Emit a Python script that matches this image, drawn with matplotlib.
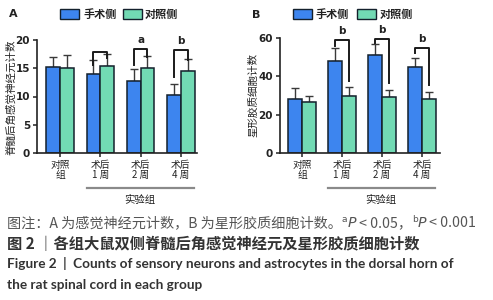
import matplotlib
matplotlib.use("Agg")
import matplotlib.pyplot as plt
from matplotlib.patches import Rectangle
import numpy as np

plt.rcParams['font.family'] = ['Noto Sans CJK SC', 'DejaVu Sans']

groups = ["对照\n组", "术后\n1 周", "术后\n2 周", "术后\n4 周"]
series = ["手术侧", "对照侧"]

a_op = [15.2, 14.0, 12.8, 10.2]
a_op_err = [1.8, 2.4, 2.0, 2.0]
a_ct = [15.1, 15.4, 15.1, 14.5]
a_ct_err = [2.2, 2.2, 2.1, 2.1]

b_op = [28.0, 48.1, 51.2, 45.1]
b_op_err = [5.7, 6.6, 5.6, 4.7]
b_ct = [26.7, 29.9, 29.4, 28.0]
b_ct_err = [3.0, 4.7, 3.5, 3.6]

# significance brackets: (group index, top, left leg bottom, right leg bottom, label)
a_sig = [(1, 17.9, 15.6, 16.8, ""), (2, 18.4, 15.6, 17.0, "a"), (3, 18.2, 13.4, 16.5, "b")]
b_sig = [(1, 58.7, 55.6, 37.6, "b"), (2, 59.6, 57.3, 36.4, "b"), (3, 54.7, 52.0, 35.5, "b")]

BLUE = "#3d85ef"
GREEN = "#72dab4"
EDGE = "#14202c"
W, H = 493, 300

fig = plt.figure(figsize=(W / 100, H / 100), dpi=100)

def px(x, y):
    return x / W, 1 - y / H

def panel(left, right, top, bottom, xlim, ylim, yticks, op, ope, ct, cte, sig, ylabel, ylx, yly):
    ax = fig.add_axes([left / W, 1 - bottom / H, (right - left) / W, (bottom - top) / H])
    x = np.arange(len(groups))
    bw = 0.34
    ax.bar(x - bw / 2, op, bw, color=BLUE, edgecolor=EDGE, linewidth=1.1, zorder=2)
    ax.bar(x + bw / 2, ct, bw, color=GREEN, edgecolor=EDGE, linewidth=1.1, zorder=2)
    ax.errorbar(x - bw / 2, op, yerr=[np.zeros(len(op)), ope], fmt="none", ecolor="#3a3a3a",
                elinewidth=1.0, capsize=3, capthick=1.0, zorder=1)
    ax.errorbar(x + bw / 2, ct, yerr=[np.zeros(len(ct)), cte], fmt="none", ecolor="#3a3a3a",
                elinewidth=1.0, capsize=3, capthick=1.0, zorder=1)
    span = ylim[1] - ylim[0]
    for g, top_, lb, rb, lab in sig:
        ax.plot([g - bw / 2, g - bw / 2, g + bw / 2, g + bw / 2], [lb, top_, top_, rb],
                color="#1a1a1a", lw=1.4, clip_on=False, zorder=3)
        if lab:
            ax.text(g, top_ + span * 0.035, lab, ha="center", va="bottom", fontsize=7.5,
                    fontweight="bold", color="#222222", family="DejaVu Sans")
    ax.set_xlim(*xlim)
    ax.set_ylim(*ylim)
    ax.set_yticks(yticks)
    ax.set_yticklabels([str(t) for t in yticks], fontsize=7.5, fontweight="bold", color="#222222",
                       family="DejaVu Sans")
    ax.set_xticks(x)
    ax.set_xticklabels(groups, fontsize=7, linespacing=1.0, color="#222222")
    for sp in ["top", "right"]:
        ax.spines[sp].set_visible(False)
    for sp in ["left", "bottom"]:
        ax.spines[sp].set_linewidth(1.2)
        ax.spines[sp].set_color("#222222")
    ax.tick_params(axis="both", direction="out", length=3, width=1.1, color="#222222", pad=2)
    ax.patch.set_alpha(0)
    fig.text(*px(ylx, yly), ylabel, rotation=90, ha="center", va="center", fontsize=7.6,
             color="#222222", linespacing=1.0)
    return ax

panel(37, 197, 40, 153, (-0.57, 3.4), (0, 20), [0, 5, 10, 15, 20],
      a_op, a_op_err, a_ct, a_ct_err, a_sig, "脊髓后角感觉神经元计数", 11, 97)
panel(280, 440, 38, 153, (-0.55, 3.45), (0, 60), [0, 20, 40, 60],
      b_op, b_op_err, b_ct, b_ct_err, b_sig, "星形胶质细胞计数", 253, 95)

# group lines and labels
for x0, x1, cx in [(87, 194, 140), (328, 435, 381)]:
    fig.add_artist(plt.Line2D([x0 / W, x1 / W], [1 - 188 / H, 1 - 188 / H], color="#8a8a8a", lw=1.6))
    fig.text(*px(cx, 200), "实验组", ha="center", va="center", fontsize=7.5, color="#222222")

# panel letters
fig.text(*px(9, 14), "A", ha="left", va="center", fontsize=8, fontweight="bold", color="#222222",
         family="DejaVu Sans")
fig.text(*px(252, 15), "B", ha="left", va="center", fontsize=8, fontweight="bold", color="#222222",
         family="DejaVu Sans")

# legends
def legend(xb, xt, xg, xt2):
    for x0, col, tx, lab in [(xb, BLUE, xt, series[0]), (xg, GREEN, xt2, series[1])]:
        fig.add_artist(Rectangle(px(x0, 19), 19 / W, 10 / H, facecolor=col, edgecolor=EDGE,
                                 linewidth=1.0, transform=fig.transFigure))
        fig.text(*px(tx, 14), lab, ha="left", va="center", fontsize=8, fontweight="bold",
                 color="#222222")

legend(60, 83, 123, 145)
legend(293, 316, 357, 380)

# caption
fig.canvas.draw()
r = fig.canvas.get_renderer()

def seq(x, y, pieces):
    for s, kw, dy in pieces:
        t = fig.text(*px(x, y - dy), s, ha="left", va="baseline", **kw)
        bb = t.get_window_extent(renderer=r)
        x += bb.width

g = dict(fontsize=10.2, color="#555555")
gi = dict(fontsize=10.2, color="#555555", family="DejaVu Sans", style="italic")
gs = dict(fontsize=6.5, color="#555555", family="DejaVu Sans")
seq(7, 227, [("图注：A 为感觉神经元计数，B 为星形胶质细胞计数。", g, 0), ("a", gs, 5), ("P", gi, 0),
             (" < 0.05，", g, 0), ("b", gs, 5), ("P", gi, 0), (" < 0.001", g, 0)])

fig.text(*px(7, 244), "图 2 ｜各组大鼠双侧脊髓后角感觉神经元及星形胶质细胞计数", ha="left", va="center",
         fontsize=11, fontweight="bold", color="#333333")
fig.text(*px(7, 264), "Figure 2  |  Counts of sensory neurons and astrocytes in the dorsal horn of",
         ha="left", va="center", fontsize=9.8, fontweight="bold", color="#333333", family="Lato")
fig.text(*px(7, 285), "the rat spinal cord in each group",
         ha="left", va="center", fontsize=9.8, fontweight="bold", color="#333333", family="Lato")

fig.savefig("out.png", dpi=100)
